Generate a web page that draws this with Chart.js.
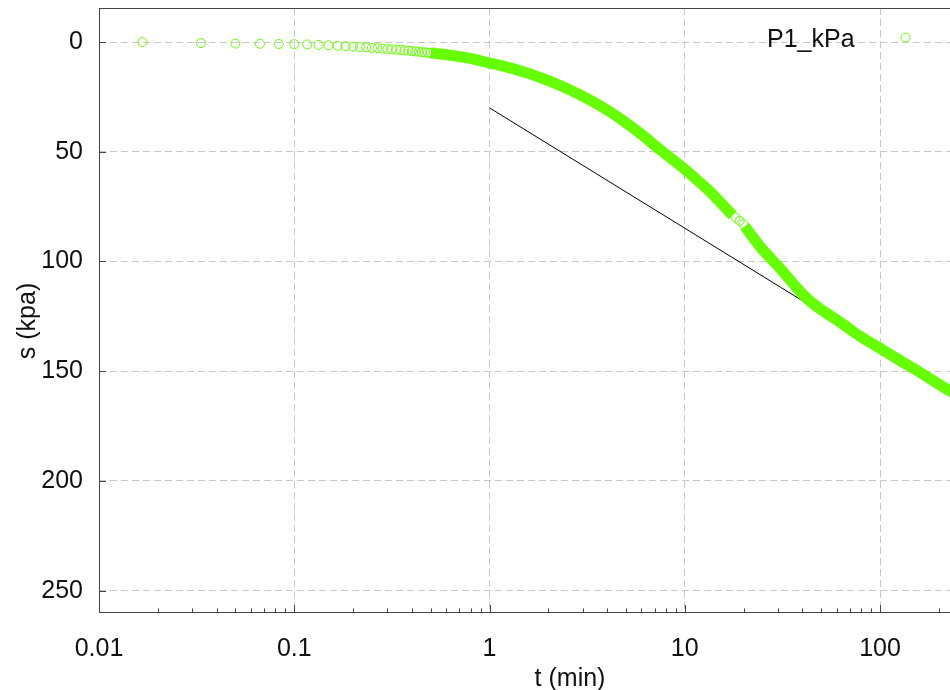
<!DOCTYPE html>
<html>
<head>
<meta charset="utf-8">
<script src="https://cdn.jsdelivr.net/npm/chart.js@4.4.1/dist/chart.umd.min.js"></script>
<style>
  html, body { margin: 0; padding: 0; background: #fff; overflow: hidden; }
  canvas { display: block; }
</style>
</head>
<body>
<canvas id="myChart" width="1045" height="690"></canvas>
<script>
// time (min) and s (kpa)
const tEarly = [0.0167, 0.0333, 0.05, 0.0667, 0.0833, 0.1, 0.1167, 0.1333, 0.15, 0.1667,
  0.1833, 0.2, 0.2167, 0.2333, 0.25, 0.2667, 0.2833, 0.3, 0.3167, 0.3333,
  0.35, 0.3667, 0.3833, 0.4, 0.4167, 0.4333, 0.45, 0.4667, 0.4833, 0.5,
  0.5333, 0.5667, 0.6, 0.6333, 0.6667];
const sEarly = [0.0, 0.5, 0.7, 0.8, 0.9, 1.0, 1.1, 1.3, 1.5, 1.7,
  1.9, 2.1, 2.3, 2.5, 2.7, 2.8, 3.0, 3.2, 3.3, 3.5,
  3.6, 3.8, 3.9, 4.1, 4.3, 4.4, 4.6, 4.7, 4.9, 5.0,
  5.3, 5.6, 5.9, 6.2, 6.4];
const tBand = [0.5, 0.65, 0.8, 1.0, 1.12, 1.61, 2.58, 4.13, 5.89, 7.46, 10.0, 11.95, 13.4, 17.6,
  18.8,
  20.3, 24.2, 30.7, 38.8, 43.7, 49.2, 62.2, 78.8, 100, 126, 160, 228, 260];
const sBand = [5.0, 6.2, 7.5, 9.6, 10.5, 14.5, 21.8, 31.7, 41.5, 49, 58, 64, 68, 79,
  null,
  84, 93, 103, 113.5, 118, 121.5, 127.5, 134, 139.5, 145, 150.5, 159, 161.5];
const tGap = [18.2, 19.1, 20.0];
const sGap = [80, 81.5, 83];
const tangentT = [1, 42];
const tangentS = [30, 119];

const xTicks = [0.01, 0.1, 1, 10, 100];
const xTickLabels = ['0.01', '0.1', '1', '10', '100'];
const yTicks = [0, 50, 100, 150, 200, 250];

const seriesName = 'P1_kPa';
const xTitle = 't (min)';
const yTitle = 's (kpa)';

const green = '#66ff00';
const fontFam = "'Liberation Sans', Arial, sans-serif";

const pts = (xs, ys) => xs.map((x, i) => ({ x: x, y: ys[i] }));

const framePlugin = {
  id: 'frame',
  afterDraw(chart) {
    const { ctx, chartArea: a, scales } = chart;
    ctx.save();
    // frame
    ctx.strokeStyle = '#444';
    ctx.lineWidth = 1;
    ctx.strokeRect(a.left + 0.5, a.top + 0.5, a.right - a.left, a.bottom - a.top);
    // inward ticks on x
    ctx.beginPath();
    for (let d = 0.01; d < 1000; d *= 10) {
      for (let m = 1; m <= 9; m++) {
        const v = d * m;
        if (v < scales.x.min || v > scales.x.max) continue;
        const px = Math.round(scales.x.getPixelForValue(v)) + 0.5;
        const len = m === 1 ? 7 : 3.5;
        ctx.moveTo(px, a.bottom);
        ctx.lineTo(px, a.bottom - len);
      }
    }
    // inward ticks on y
    yTicks.forEach(v => {
      const py = Math.round(scales.y.getPixelForValue(v)) + 0.5;
      ctx.moveTo(a.left, py);
      ctx.lineTo(a.left + 7, py);
    });
    ctx.stroke();

    // axis titles
    ctx.fillStyle = '#111';
    ctx.font = '25px ' + fontFam;
    ctx.textAlign = 'center';
    ctx.textBaseline = 'alphabetic';
    ctx.fillText(xTitle, 570, 686);
    ctx.save();
    ctx.translate(35, 321);
    ctx.rotate(-Math.PI / 2);
    ctx.fillText(yTitle, 0, 0);
    ctx.restore();

    // legend
    ctx.textAlign = 'left';
    ctx.fillText(chart.data.datasets[0].label, 767, 47);
    ctx.beginPath();
    ctx.arc(905.5, 37.5, 4.5, 0, Math.PI * 2);
    ctx.strokeStyle = green;
    ctx.lineWidth = 1;
    ctx.stroke();
    ctx.restore();
  }
};

const noPad = s => { s.paddingTop = 0; s.paddingBottom = 0; s.paddingLeft = 0; s.paddingRight = 0; };

const ctx = document.getElementById('myChart').getContext('2d');
const myChart = new Chart(ctx, {
  type: 'scatter',
  data: {
    datasets: [
      {
        label: seriesName,
        data: pts(tEarly, sEarly).concat(pts(tGap, sGap)),
        pointStyle: 'circle',
        pointRadius: 4.5,
        borderColor: green,
        backgroundColor: 'rgba(0,0,0,0)',
        borderWidth: 1
      },
      {
        label: seriesName,
        data: pts(tBand, sBand),
        showLine: true,
        spanGaps: false,
        cubicInterpolationMode: 'monotone',
        borderColor: green,
        borderWidth: 11,
        pointRadius: 0
      },
      {
        label: 'tangent',
        data: pts(tangentT, tangentS),
        showLine: true,
        borderColor: '#000',
        borderWidth: 1,
        pointRadius: 0
      }
    ]
  },
  options: {
    responsive: false,
    animation: false,
    layout: { padding: { top: 8, right: 6, left: 0, bottom: 0 } },
    plugins: {
      legend: { display: false },
      tooltip: { enabled: false }
    },
    scales: {
      x: {
        type: 'logarithmic',
        min: 0.01,
        max: 652,
        afterFit: s => { s.height = 78; noPad(s); },
        afterBuildTicks: s => { s.ticks = xTicks.map(v => ({ value: v })); },
        border: { display: false, dash: [7, 4] },
        grid: { color: '#c8c8c8', lineWidth: 1, drawTicks: false },
        ticks: {
          autoSkip: false,
          maxRotation: 0,
          padding: 22,
          color: '#111',
          font: { family: fontFam, size: 25 },
          callback: (v, i) => xTickLabels[i]
        }
      },
      y: {
        type: 'linear',
        reverse: true,
        min: -15.5,
        max: 259.7,
        afterFit: s => { s.width = 99; noPad(s); },
        afterBuildTicks: s => { s.ticks = yTicks.map(v => ({ value: v })); },
        border: { display: false, dash: [7, 4] },
        grid: { color: '#c8c8c8', lineWidth: 1, drawTicks: false },
        ticks: {
          padding: 16,
          color: '#111',
          font: { family: fontFam, size: 25 },
          callback: v => String(v)
        }
      }
    }
  },
  plugins: [framePlugin]
});
</script>
</body>
</html>
